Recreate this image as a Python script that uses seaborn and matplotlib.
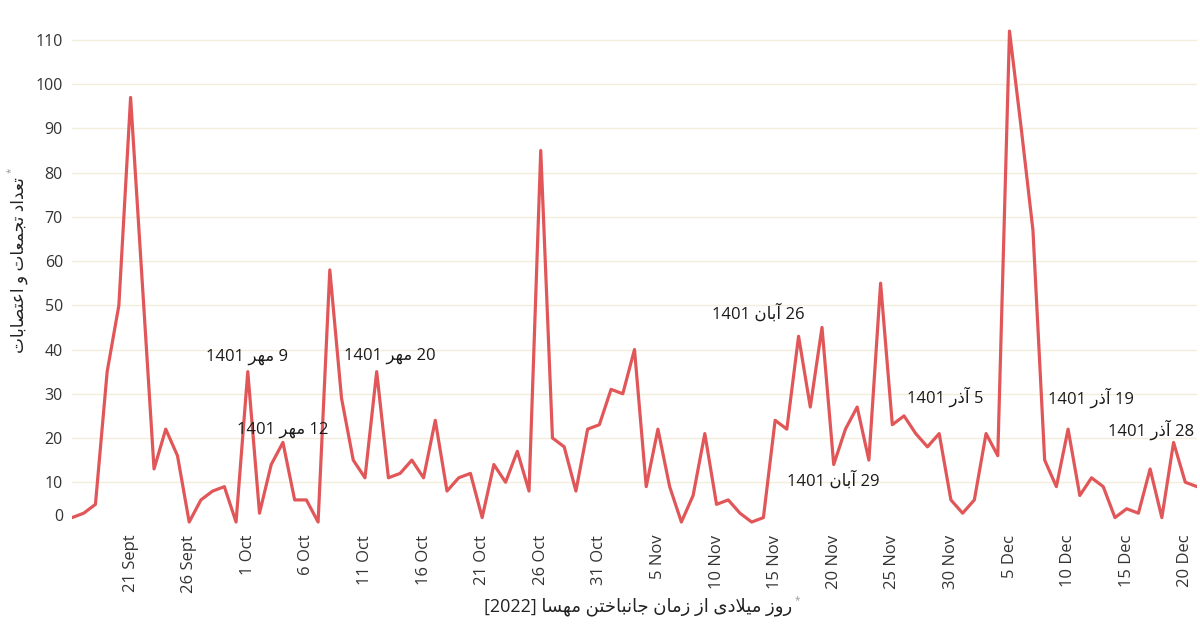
import numpy as np
import pandas as pd
import matplotlib
matplotlib.use("Agg")
import matplotlib.pyplot as plt
import matplotlib.transforms as mtransforms
import seaborn as sns

# ---------------- data ----------------
start_date = "2022-09-16"
counts = [
    # Sept 16-30
    2, 3, 5, 35, 50, 97, 55, 13, 22, 16, 1, 6, 8, 9, 1,
    # Oct 1-31
    35, 3, 14, 19, 6, 6, 1, 58, 29, 15, 11, 35, 11, 12, 15, 11, 24, 8, 11, 12,
    2, 14, 10, 17, 8, 85, 20, 18, 8, 22, 23,
    # Nov 1-30
    31, 30, 40, 9, 22, 9, 1, 7, 21, 5, 6, 3, 1, 2, 24, 22, 43, 27, 45, 14,
    22, 27, 15, 55, 23, 25, 21, 18, 21, 6,
    # Dec 1-21
    3, 6, 21, 16, 112, 90, 67, 15, 9, 22, 7, 11, 9, 2, 4, 3, 13, 2, 19, 10, 9,
]
tick_dates = ["2022-09-21", "2022-09-26", "2022-10-01", "2022-10-06", "2022-10-11",
              "2022-10-16", "2022-10-21", "2022-10-26", "2022-10-31", "2022-11-05",
              "2022-11-10", "2022-11-15", "2022-11-20", "2022-11-25", "2022-11-30",
              "2022-12-05", "2022-12-10", "2022-12-15", "2022-12-20"]
tick_labels = ["21 Sept", "26 Sept", "1 Oct", "6 Oct", "11 Oct", "16 Oct", "21 Oct",
               "26 Oct", "31 Oct", "5 Nov", "10 Nov", "15 Nov", "20 Nov", "25 Nov",
               "30 Nov", "5 Dec", "10 Dec", "15 Dec", "20 Dec"]
y_ticks = [0, 10, 20, 30, 40, 50, 60, 70, 80, 90, 100, 110]
annot_dates = ["2022-10-01", "2022-10-04", "2022-10-12", "2022-11-17",
               "2022-11-20", "2022-11-26", "2022-12-10", "2022-12-19"]
annot_texts = ["9 مهر 1401", "12 مهر 1401", "20 مهر 1401", "26 آبان 1401",
               "29 آبان 1401", "5 آذر 1401", "19 آذر 1401", "28 آذر 1401"]
y_title = "تعداد تجمعات و اعتصابات"
x_title = "روز میلادی از زمان جانباختن مهسا [2022]"

# ---------------- minimal Persian shaping ----------------
FORMS = {  # isolated, final, initial, medial
    "ا": ("\uFE8D", "\uFE8E", None, None),
    "آ": ("\uFE81", "\uFE82", None, None),
    "د": ("\uFEA9", "\uFEAA", None, None),
    "ذ": ("\uFEAB", "\uFEAC", None, None),
    "ر": ("\uFEAD", "\uFEAE", None, None),
    "ز": ("\uFEAF", "\uFEB0", None, None),
    "و": ("\uFEED", "\uFEEE", None, None),
    "ب": ("\uFE8F", "\uFE90", "\uFE91", "\uFE92"),
    "ت": ("\uFE95", "\uFE96", "\uFE97", "\uFE98"),
    "ج": ("\uFE9D", "\uFE9E", "\uFE9F", "\uFEA0"),
    "خ": ("\uFEA5", "\uFEA6", "\uFEA7", "\uFEA8"),
    "س": ("\uFEB1", "\uFEB2", "\uFEB3", "\uFEB4"),
    "ص": ("\uFEB9", "\uFEBA", "\uFEBB", "\uFEBC"),
    "ع": ("\uFEC9", "\uFECA", "\uFECB", "\uFECC"),
    "ل": ("\uFEDD", "\uFEDE", "\uFEDF", "\uFEE0"),
    "م": ("\uFEE1", "\uFEE2", "\uFEE3", "\uFEE4"),
    "ن": ("\uFEE5", "\uFEE6", "\uFEE7", "\uFEE8"),
    "ه": ("\uFEE9", "\uFEEA", "\uFEEB", "\uFEEC"),
    "ی": ("\uFEEF", "\uFEF0", "\uFEF3", "\uFEF4"),
}
LAM_ALEF = {"ا": ("\uFEFB", "\uFEFC"), "آ": ("\uFEF5", "\uFEF6")}


def is_dual(c):
    return c in FORMS and FORMS[c][2] is not None


def shape_word(w):
    out = []
    i = 0
    n = len(w)
    while i < n:
        c = w[i]
        if c not in FORMS:
            out.append(c)
            i += 1
            continue
        prev = w[i - 1] if i > 0 else None
        jp = prev is not None and is_dual(prev)
        if c == "ل" and i + 1 < n and w[i + 1] in LAM_ALEF:
            iso, fin = LAM_ALEF[w[i + 1]]
            out.append(fin if jp else iso)
            i += 2
            continue
        nxt = w[i + 1] if i + 1 < n else None
        jn = is_dual(c) and nxt is not None and nxt in FORMS
        iso, fin, ini, med = FORMS[c]
        if jp and jn:
            out.append(med)
        elif jp:
            out.append(fin)
        elif jn:
            out.append(ini)
        else:
            out.append(iso)
        i += 1
    return "".join(out)


def has_arabic(w):
    return any(ch in FORMS for ch in w)


def visual_word(w):
    return shape_word(w)[::-1] if has_arabic(w) else w


def rtl(s):
    """Visual (left-to-right) form of a right-to-left Persian line."""
    return " ".join(visual_word(t) for t in s.split(" ")[::-1])


# ---------------- plot ----------------
sns.set_theme(style="white")
plt.rcParams["font.family"] = ["Open Sans", "DejaVu Sans"]

df = pd.DataFrame({
    "date": pd.date_range(start_date, periods=len(counts), freq="D"),
    "count": counts,
})

W, H = 1200, 631
fig = plt.figure(figsize=(W / 100, H / 100), dpi=100)
ax = fig.add_axes([72 / W, (H - 530) / H, (1197 - 72) / W, 510 / H])

sns.lineplot(data=df, x="date", y="count", color="#e15759", linewidth=2.3,
             ax=ax, zorder=3)

ax.set_xlim(df["date"].iloc[0], df["date"].iloc[-1])
ax.set_ylim(-0.8, 114.5)
for s in ax.spines.values():
    s.set_visible(False)
ax.grid(False)
ax.set_yticks(y_ticks)
ax.set_yticklabels([str(v) for v in y_ticks])
for v in y_ticks[1:]:
    ax.axhline(v, color="#f3eddb", linewidth=1.0, zorder=1)
ax.set_xticks(pd.to_datetime(tick_dates))
ax.set_xticklabels(tick_labels, rotation=90, ha="center", va="top")
ax.tick_params(axis="y", length=0, pad=6.5, labelsize=11.5, labelcolor="#333333")
ax.tick_params(axis="x", length=0, pad=3.5, labelsize=12, labelcolor="#333333")
ax.set_xlabel("")
ax.set_ylabel("")

# shift the 0 label up as in the reference
for lab in ax.get_yticklabels():
    if lab.get_text() == "0":
        lab.set_transform(lab.get_transform() +
                          mtransforms.ScaledTranslation(0, 11 / 100, fig.dpi_scale_trans))

# annotations
offsets = [(-1, 15), (0, 13), (13, 16), (-40, 23), (0, -16), (41, 19), (23, 31), (-22, 13)]
date_index = pd.to_datetime(df["date"])
for d, t, (dx, dy) in zip(annot_dates, annot_texts, offsets):
    dd = pd.to_datetime(d)
    val = df.loc[date_index == dd, "count"].iloc[0]
    ax.annotate(rtl(t), xy=(dd, val), xytext=(dx, dy), textcoords="offset pixels",
                ha="center", va="center", fontsize=12, color="#1a1a1a", zorder=5)

# axis titles
fig.text(19 / W, 1 - 265 / H, rtl(y_title), rotation=90, ha="center", va="center",
         fontsize=12.2, color="#222222")
fig.text(11 / W, 1 - 170 / H, "*", rotation=90, ha="center", va="center",
         fontsize=7, color="#999999")
fig.text(638 / W, 1 - 607 / H, rtl(x_title), ha="center", va="center",
         fontsize=13, color="#222222")
fig.text(797 / W, 1 - 601 / H, "*", ha="center", va="center",
         fontsize=7, color="#999999")

fig.savefig("out.png", dpi=100)
